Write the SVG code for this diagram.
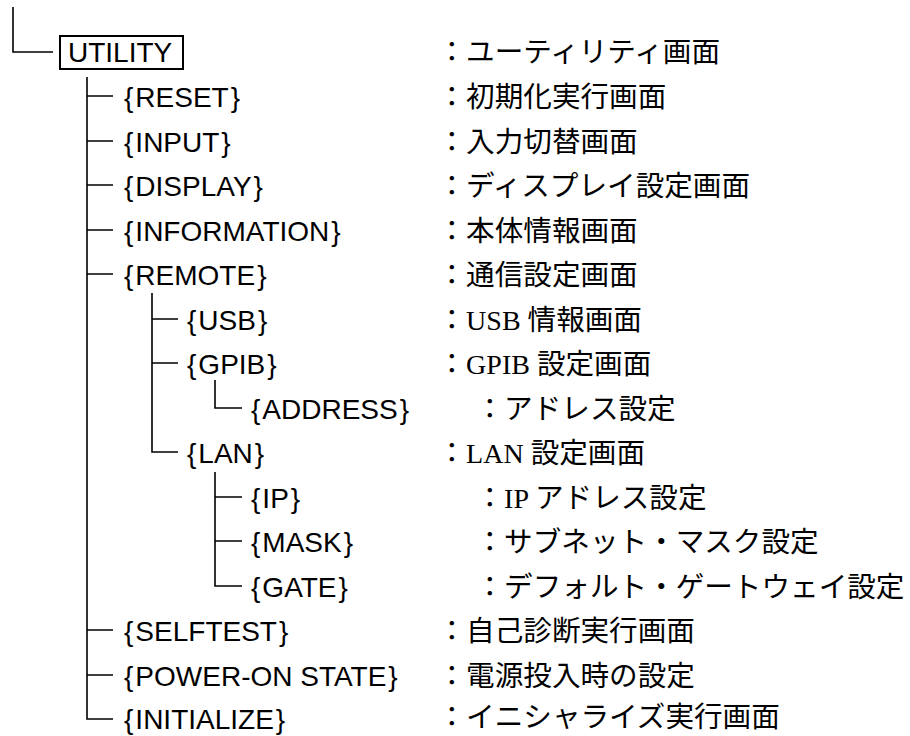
<svg xmlns="http://www.w3.org/2000/svg" width="910" height="736" viewBox="0 0 910 736">
<style>
.ln{fill:none;stroke:#000;stroke-width:1.6}
.lbl{font-family:"Liberation Sans",Arial,sans-serif;font-size:28px;fill:#000}
.jp{font-family:"Noto Sans CJK JP",sans-serif;font-size:28.6px;fill:#000}
.lat{font-family:"Liberation Serif","Times New Roman",serif;font-size:28px}
</style>
<rect width="910" height="736" fill="#fff"/>
<g id="connectors">
<path class="ln" d="M13,7 V52 H53"/>
<path class="ln" d="M87,77 V719 H113 M87,96 H113 M87,141 H113 M87,185 H113 M87,230 H113 M87,274 H113 M87,630 H113 M87,675 H113"/>
<path class="ln" d="M152,293 V452 H178 M152,319 H178 M152,363 H178"/>
<path class="ln" d="M215,380 V408 H242"/>
<path class="ln" d="M215,472 V586 H242 M215,497 H242 M215,541 H242"/>
</g>
<g id="utility">
<rect x="60" y="36" width="123" height="33" fill="none" stroke="#000" stroke-width="2"/>
<text class="lbl" x="68" y="62">UTILITY</text>
<text class="jp" x="437.5" y="62">：ユーティリティ画面</text>
</g>
<g id="reset"><text class="lbl" x="124" y="107">{<tspan dx="2">RESET</tspan><tspan dx="2">}</tspan></text><text class="jp" x="437.5" y="107">：初期化実行画面</text></g>
<g id="input"><text class="lbl" x="124" y="152">{<tspan dx="2">INPUT</tspan><tspan dx="2">}</tspan></text><text class="jp" x="437.5" y="152">：入力切替画面</text></g>
<g id="display"><text class="lbl" x="124" y="196">{<tspan dx="2">DISPLAY</tspan><tspan dx="2">}</tspan></text><text class="jp" x="437.5" y="196">：ディスプレイ設定画面</text></g>
<g id="information"><text class="lbl" x="124" y="241">{<tspan dx="2">INFORMATION</tspan><tspan dx="2">}</tspan></text><text class="jp" x="437.5" y="241">：本体情報画面</text></g>
<g id="remote"><text class="lbl" x="124" y="285">{<tspan dx="2">REMOTE</tspan><tspan dx="2">}</tspan></text><text class="jp" x="437.5" y="285">：通信設定画面</text></g>
<g id="usb"><text class="lbl" x="187" y="330">{<tspan dx="2">USB</tspan><tspan dx="2">}</tspan></text><text class="jp" x="437.5" y="330">：<tspan class="lat">USB </tspan>情報画面</text></g>
<g id="gpib"><text class="lbl" x="187" y="374">{<tspan dx="2">GPIB</tspan><tspan dx="2">}</tspan></text><text class="jp" x="437.5" y="374">：<tspan class="lat">GPIB </tspan>設定画面</text></g>
<g id="address"><text class="lbl" x="251" y="419">{<tspan dx="2">ADDRESS</tspan><tspan dx="2">}</tspan></text><text class="jp" x="475.5" y="419">：アドレス設定</text></g>
<g id="lan"><text class="lbl" x="187" y="463">{<tspan dx="2">LAN</tspan><tspan dx="2">}</tspan></text><text class="jp" x="437.5" y="463">：<tspan class="lat">LAN </tspan>設定画面</text></g>
<g id="ip"><text class="lbl" x="251" y="508">{<tspan dx="2">IP</tspan><tspan dx="2">}</tspan></text><text class="jp" x="475.5" y="508">：<tspan class="lat">IP </tspan>アドレス設定</text></g>
<g id="mask"><text class="lbl" x="251" y="552">{<tspan dx="2">MASK</tspan><tspan dx="2">}</tspan></text><text class="jp" x="475.5" y="552">：サブネット・マスク設定</text></g>
<g id="gate"><text class="lbl" x="251" y="597">{<tspan dx="2">GATE</tspan><tspan dx="2">}</tspan></text><text class="jp" x="475.5" y="597">：デフォルト・ゲートウェイ設定</text></g>
<g id="selftest"><text class="lbl" x="124" y="641">{<tspan dx="2">SELFTEST</tspan><tspan dx="2">}</tspan></text><text class="jp" x="437.5" y="641">：自己診断実行画面</text></g>
<g id="poweron"><text class="lbl" x="124" y="686">{<tspan dx="2">POWER-ON STATE</tspan><tspan dx="2">}</tspan></text><text class="jp" x="437.5" y="686">：電源投入時の設定</text></g>
<g id="initialize"><text class="lbl" x="124" y="729">{<tspan dx="2">INITIALIZE</tspan><tspan dx="2">}</tspan></text><text class="jp" x="437.5" y="727">：イニシャライズ実行画面</text></g>
</svg>
